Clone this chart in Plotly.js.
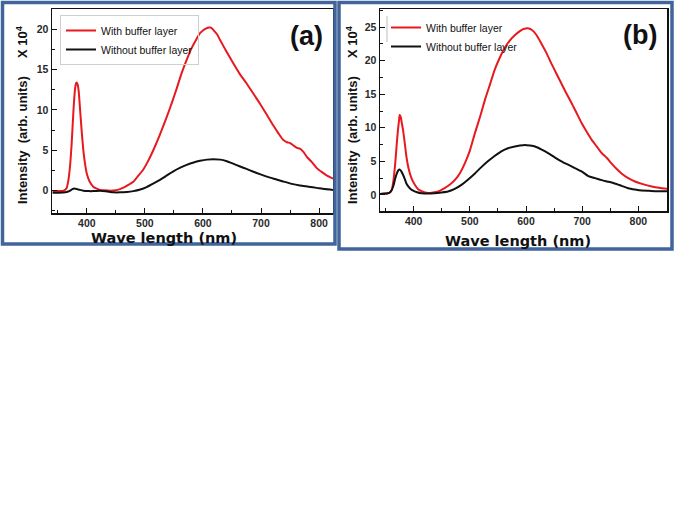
<!DOCTYPE html>
<html>
<head>
<meta charset="utf-8">
<script src="https://cdn.plot.ly/plotly-3.0.1.min.js"></script>
<style>html,body{margin:0;padding:0;background:#fff;}#chart{width:685px;height:513px;}</style>
</head>
<body>
<div id="chart"></div>
<script>
// Panel (a) data
var waveA_with = [341,350,360,365,368,371,374,377,380,382,384,386,388,391,394,397,400,405,411,417,423,430,440,450,457,465,472,480,488,497,505,515,525,538,547,555,563,572,580,589,595,601,606,610,614,618,624,630,640,652,663,675,687,698,710,721,730,738,745,750,756,762,767,773,779,788,796,805,813,824];
var intA_with = [-0.1,-0.05,0,0.3,1.2,3,6,10,12.8,13.4,13.2,12.3,10.4,7.5,5,3.3,2.1,1.1,0.5,0.25,0.1,0.05,0,0.05,0.2,0.45,0.75,1.1,1.8,2.6,3.6,5.1,6.8,9.2,11,12.7,14.5,16.2,17.6,18.8,19.5,19.9,20.1,20.2,20.2,19.9,19.4,18.6,17.3,15.8,14.5,13.3,12,10.8,9.4,8.1,7.1,6.3,6,5.9,5.6,5.3,5.2,4.8,4.2,3.5,2.8,2.3,1.9,1.5];
var waveA_without = [341,352,363,368,371,374,377,380,383,388,394,403,412,423,435,446,458,469,480,492,503,515,526,538,549,561,572,584,595,607,618,630,641,652,664,675,687,698,710,724,738,753,767,782,796,810,824];
var intA_without = [-0.25,-0.25,-0.2,-0.1,0,0.15,0.25,0.25,0.2,0.1,0,-0.05,-0.05,0,-0.1,-0.2,-0.2,-0.15,-0.05,0.15,0.45,0.9,1.35,1.9,2.4,2.85,3.2,3.5,3.7,3.85,3.9,3.85,3.65,3.35,3.0,2.7,2.35,2.05,1.75,1.45,1.15,0.85,0.65,0.5,0.35,0.2,0.1];

// Panel (b) data
var waveB_with = [340,348,354,358,361,364,367,370,372,374,375,377,379,381,384,387,391,396,402,408,414,420,428,437,446,455,464,473,482,491,500,509,518,527,536,544,553,562,571,580,589,595,600,605,610,618,627,636,645,654,663,672,681,690,699,708,717,726,735,744,752,761,770,782,794,808,824,837,851];
var intB_with = [0.15,0.2,0.25,0.4,0.75,2.2,4.6,7.8,9.7,11.2,11.9,11.6,10.6,9.7,7.8,5.7,3.9,2.5,1.5,0.85,0.55,0.35,0.3,0.4,0.6,1,1.5,2.2,3.2,4.7,6.6,9.2,11.6,14.2,16.5,18.6,20.4,21.9,23,23.8,24.4,24.7,24.8,24.8,24.6,23.9,22.6,21.2,19.6,18.1,16.6,15.1,13.7,12.2,10.7,9.4,8.2,7.2,6.2,5.5,4.7,3.9,3.2,2.5,2,1.6,1.25,1.05,0.9];
var waveB_without = [340,354,358,361,364,367,370,373,375,378,381,384,387,391,395,399,406,414,425,437,449,461,473,485,497,509,520,532,544,556,568,580,589,598,607,616,628,640,651,663,675,687,699,711,723,735,747,758,770,782,794,806,820,835,851];
var intB_without = [0.15,0.25,0.4,0.75,1.4,2.4,3.2,3.7,3.8,3.5,3,2.4,1.7,1.2,0.85,0.65,0.4,0.25,0.2,0.25,0.35,0.5,0.9,1.5,2.3,3.2,4.1,5,5.8,6.5,6.95,7.2,7.35,7.45,7.35,7.2,6.75,6.2,5.6,5,4.5,4,3.5,2.8,2.5,2.2,1.95,1.7,1.35,1,0.8,0.65,0.6,0.55,0.55];

var seriesNames = ["With buffer layer", "Without buffer layer"];
var panelLabels = ["(a)", "(b)"];
var xTitle = "Wave length (nm)";
var yTitle = "Intensity&nbsp;&nbsp;(arb. units)&nbsp;&nbsp;&nbsp;&nbsp;&nbsp;X 10<sup>4</sup>";

var W = 685, H = 513;
function px(x){ return x / W; }
function py(y){ return 1 - y / H; }

var red = "#e8191e", blk = "#111111";

var traces = [
  {x: waveA_with, y: intA_with, name: seriesNames[0], type: "scatter", mode: "lines", line: {color: red, width: 2, shape: "spline", smoothing: 0.6}, xaxis: "x", yaxis: "y", legend: "legend"},
  {x: waveA_without, y: intA_without, name: seriesNames[1], type: "scatter", mode: "lines", line: {color: blk, width: 2, shape: "spline", smoothing: 0.6}, xaxis: "x", yaxis: "y", legend: "legend"},
  {x: waveB_with, y: intB_with, name: seriesNames[0], type: "scatter", mode: "lines", line: {color: red, width: 2, shape: "spline", smoothing: 0.6}, xaxis: "x2", yaxis: "y2", legend: "legend2"},
  {x: waveB_without, y: intB_without, name: seriesNames[1], type: "scatter", mode: "lines", line: {color: blk, width: 2, shape: "spline", smoothing: 0.6}, xaxis: "x2", yaxis: "y2", legend: "legend2"}
];

var tickFont = {family: "Liberation Sans, Arial, sans-serif", size: 10.5, color: "#2a2a2a", weight: "bold"};
function xAxis(dom, rng, anchor){
  return {domain: dom, range: rng, anchor: anchor, showline: true, mirror: true, linecolor: "#111", linewidth: 1.5,
    ticks: "inside", ticklen: 5, tickwidth: 1, tickcolor: "#111", dtick: 100, tick0: 0,
    minor: {dtick: 50, ticks: "inside", ticklen: 3, tickcolor: "#111"},
    showgrid: false, zeroline: false, tickfont: tickFont, ticklabelstandoff: 0};
}
function yAxis(dom, rng, anchor){
  return {domain: dom, range: rng, anchor: anchor, showline: true, mirror: true, linecolor: "#111", linewidth: 1.5,
    ticks: "inside", ticklen: 5, tickwidth: 1, tickcolor: "#111", dtick: 5, tick0: 0,
    minor: {dtick: 2.5, ticks: "inside", ticklen: 3, tickcolor: "#111"},
    showgrid: false, zeroline: false, tickfont: tickFont};
}

var legendFont = {family: "Liberation Sans, Arial, sans-serif", size: 10.5, color: "#111"};
var frameColor = "#40649b";

var layout = {
  width: W, height: H,
  margin: {l: 0, r: 0, t: 0, b: 0, pad: 0},
  paper_bgcolor: "#fff", plot_bgcolor: "#fff",
  showlegend: true,
  xaxis: xAxis([px(52), px(333)], [340, 824], "y"),
  yaxis: yAxis([py(213), py(9)], [-2.76, 22.5], "x"),
  xaxis2: xAxis([px(380), px(667)], [340, 851], "y2"),
  yaxis2: yAxis([py(211), py(9)], [-2.4, 27.7], "x2"),
  legend: {x: px(60), y: py(15), xanchor: "left", yanchor: "top", bgcolor: "rgba(255,255,255,0)", bordercolor: "#cfcfcf", borderwidth: 1, font: legendFont, tracegroupgap: 0, itemwidth: 30},
  legend2: {x: px(386), y: py(13), xanchor: "left", yanchor: "top", bgcolor: "rgba(255,255,255,0)", borderwidth: 0, font: legendFont, tracegroupgap: 0, itemwidth: 30},
  shapes: [
    {type: "rect", xref: "paper", yref: "paper", x0: px(2.5), x1: px(335), y0: py(244), y1: py(2.5), line: {color: frameColor, width: 3.5}},
    {type: "rect", xref: "paper", yref: "paper", x0: px(339), x1: px(672), y0: py(249), y1: py(2.5), line: {color: frameColor, width: 3.5}},
    {type: "line", xref: "paper", yref: "paper", x0: px(387), x1: px(387), y0: py(16), y1: py(42), line: {color: "#bdbdbd", width: 1}}
  ],
  annotations: [
    {text: panelLabels[0], xref: "paper", yref: "paper", x: px(306), y: py(36), xanchor: "center", yanchor: "middle", showarrow: false, font: {family: "Liberation Sans, Arial, sans-serif", size: 27, color: "#111", weight: "bold"}},
    {text: panelLabels[1], xref: "paper", yref: "paper", x: px(640), y: py(35), xanchor: "center", yanchor: "middle", showarrow: false, font: {family: "Liberation Sans, Arial, sans-serif", size: 27, color: "#111", weight: "bold"}},
    {text: xTitle, xref: "paper", yref: "paper", x: px(164), y: py(238), xanchor: "center", yanchor: "middle", showarrow: false, font: {family: "DejaVu Sans, Verdana, sans-serif", size: 14.5, color: "#111", weight: "bold"}},
    {text: xTitle, xref: "paper", yref: "paper", x: px(518), y: py(241), xanchor: "center", yanchor: "middle", showarrow: false, font: {family: "DejaVu Sans, Verdana, sans-serif", size: 14.5, color: "#111", weight: "bold"}},
    {text: yTitle, xref: "paper", yref: "paper", x: px(22), y: py(115), xanchor: "center", yanchor: "middle", textangle: -90, showarrow: false, font: {family: "Liberation Sans, Arial, sans-serif", size: 13, color: "#111", weight: "bold"}},
    {text: yTitle, xref: "paper", yref: "paper", x: px(352), y: py(115), xanchor: "center", yanchor: "middle", textangle: -90, showarrow: false, font: {family: "Liberation Sans, Arial, sans-serif", size: 13, color: "#111", weight: "bold"}}
  ]
};

Plotly.newPlot("chart", traces, layout, {displayModeBar: false, staticPlot: true});
</script>
</body>
</html>
